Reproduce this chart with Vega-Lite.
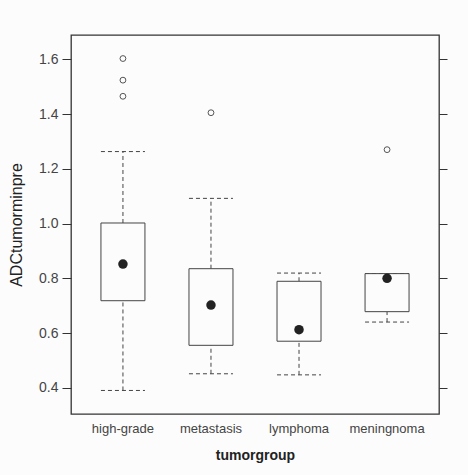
{
  "$schema": "https://vega.github.io/schema/vega-lite/v6.json",
  "width": 368,
  "height": 379,
  "autosize": "none",
  "padding": {"left": 71, "top": 35, "right": 29, "bottom": 61},
  "background": "#fcfcfc",
  "config": {
    "view": {"stroke": "#333333", "strokeWidth": 1.3},
    "font": "Liberation Sans",
    "axis": {"grid": false, "labelColor": "#444444", "titleColor": "#222222", "domain": false, "tickColor": "#333333"}
  },
  "resolve": {"axis": {"y": "independent"}},
  "datasets": {
    "boxes": [
      {"tumorgroup": "high-grade", "lo": 0.39, "q1": 0.718, "median": 0.852, "q3": 1.002, "hi": 1.263},
      {"tumorgroup": "metastasis", "lo": 0.451, "q1": 0.555, "median": 0.702, "q3": 0.835, "hi": 1.092},
      {"tumorgroup": "lymphoma", "lo": 0.447, "q1": 0.57, "median": 0.612, "q3": 0.789, "hi": 0.819},
      {"tumorgroup": "meningnoma", "lo": 0.64, "q1": 0.678, "median": 0.8, "q3": 0.817, "hi": 0.817}
    ],
    "outliers": [
      {"tumorgroup": "high-grade", "ADCtumorminpre": 1.603},
      {"tumorgroup": "high-grade", "ADCtumorminpre": 1.524},
      {"tumorgroup": "high-grade", "ADCtumorminpre": 1.465},
      {"tumorgroup": "metastasis", "ADCtumorminpre": 1.405},
      {"tumorgroup": "meningnoma", "ADCtumorminpre": 1.27}
    ]
  },
  "encoding": {
    "x": {
      "field": "tumorgroup",
      "type": "nominal",
      "sort": ["high-grade", "metastasis", "lymphoma", "meningnoma"],
      "scale": {"paddingInner": 0, "paddingOuter": 0.09},
      "axis": {
        "title": "tumorgroup",
        "titleFontSize": 14,
        "titleFontWeight": "bold",
        "titlePadding": 13,
        "labelAngle": 0,
        "labelFontSize": 13,
        "labelPadding": 8,
        "ticks": false
      }
    }
  },
  "layer": [
    {
      "data": {"name": "boxes"},
      "mark": {"type": "rule", "strokeDash": [4, 3], "color": "#444444", "strokeWidth": 1},
      "encoding": {
        "y": {
          "field": "q3",
          "type": "quantitative",
          "scale": {"domain": [0.304, 1.689], "nice": false, "zero": false},
          "axis": {
            "title": "ADCtumorminpre",
            "titleFontSize": 16,
            "titleFontWeight": "normal",
            "titlePadding": 14,
            "values": [0.4, 0.6, 0.8, 1.0, 1.2, 1.4, 1.6],
            "format": ".1f",
            "labelFontSize": 14,
            "tickSize": 9,
            "labelPadding": 4
          }
        },
        "y2": {"field": "hi"}
      }
    },
    {
      "data": {"name": "boxes"},
      "mark": {"type": "rule", "strokeDash": [4, 3], "color": "#444444", "strokeWidth": 1},
      "encoding": {
        "y": {"field": "lo", "type": "quantitative", "axis": null},
        "y2": {"field": "q1"}
      }
    },
    {
      "data": {"name": "boxes"},
      "mark": {"type": "rule", "strokeDash": [4, 3], "color": "#444444", "strokeWidth": 1, "xOffset": -22, "x2Offset": 22},
      "encoding": {
        "x2": {"field": "tumorgroup"},
        "y": {"field": "hi", "type": "quantitative", "axis": null}
      }
    },
    {
      "data": {"name": "boxes"},
      "mark": {"type": "rule", "strokeDash": [4, 3], "color": "#444444", "strokeWidth": 1, "xOffset": -22, "x2Offset": 22},
      "encoding": {
        "x2": {"field": "tumorgroup"},
        "y": {"field": "lo", "type": "quantitative", "axis": null}
      }
    },
    {
      "data": {"name": "boxes"},
      "mark": {"type": "bar", "size": 44, "fill": "#fcfcfc", "stroke": "#444444", "strokeWidth": 1},
      "encoding": {
        "y": {"field": "q1", "type": "quantitative", "axis": null},
        "y2": {"field": "q3"}
      }
    },
    {
      "data": {"name": "boxes"},
      "mark": {"type": "point", "filled": true, "size": 90, "color": "#222222", "opacity": 1},
      "encoding": {
        "y": {"field": "median", "type": "quantitative", "axis": null}
      }
    },
    {
      "data": {"name": "outliers"},
      "mark": {"type": "point", "filled": false, "size": 34, "color": "#555555", "strokeWidth": 1, "opacity": 1},
      "encoding": {
        "y": {
          "field": "ADCtumorminpre",
          "type": "quantitative",
          "axis": {
            "orient": "right",
            "title": null,
            "labels": false,
            "values": [0.4, 0.6, 0.8, 1.0, 1.2, 1.4, 1.6],
            "tickSize": 8
          }
        }
      }
    }
  ]
}
